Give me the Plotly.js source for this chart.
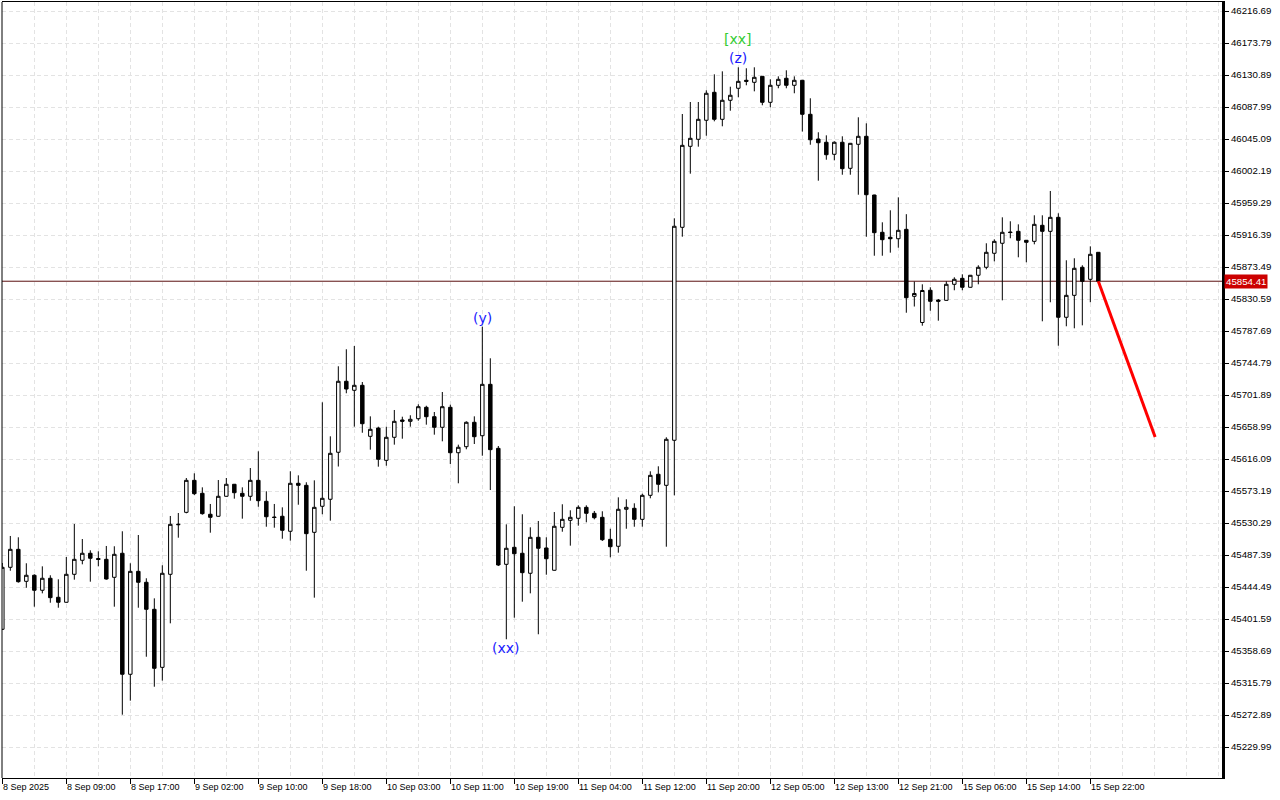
<!DOCTYPE html>
<html>
<head>
<meta charset="utf-8">
<script src="https://cdn.plot.ly/plotly-3.0.1.min.js"></script>
<style>html,body{margin:0;padding:0;background:#fff;}#chart{width:1280px;height:800px;}</style>
</head>
<body>
<div id="chart"></div>
<script>
// Hourly candles, 8 Sep 2025 00:00 .. 15 Sep 2025 23:00 (index = bar number)
var openP = [45387.8,45470.9,45495.0,45452.1,45460.2,45440.1,45456.2,45430.7,45424.0,45461.5,
45480.3,45489.7,45482.7,45481.6,45457.5,45489.7,45327.5,45465.5,45450.8,45414.6,
45336.8,45461.5,45527.9,45544.6,45587.5,45570.1,45542.0,45539.3,45566.1,45582.2,
45570.1,45566.1,45587.5,45559.4,45538.3,45539.3,45519.2,45583.5,45580.8,45517.8,
45552.7,45562.1,45625.1,45720.3,45708.2,45714.9,45646.5,45657.6,45614.3,45645.2,
45668.4,45666.6,45670.1,45685.4,45672.8,45658.6,45685.4,45624.5,45632.6,45665.3,
45647.3,45716.2,45630.4,45474.9,45497.7,45489.7,45462.9,45511.1,45496.8,45466.9,
45524.5,45533.9,45536.6,45551.3,45543.3,45537.9,45508.4,45499.1,45548.7,45550.0,
45535.2,45567.4,45595.6,45580.8,45641.2,45926.7,46035.3,46044.7,46070.2,46107.7,
46071.5,46097.0,46113.1,46123.8,46121.1,46129.1,46094.3,46117.1,46126.5,46117.1,
46123.8,46078.2,46045.1,46040.7,46024.6,46040.7,46005.8,46038.0,46048.7,45970.0,
45920.0,45913.3,45911.4,45924.0,45834.2,45799.1,45842.3,45829.2,45828.8,45850.3,
45858.3,45846.3,45862.4,45873.1,45891.9,45905.3,45920.4,45921.3,45909.3,45907.9,
45929.4,45921.3,45940.1,45806.1,45835.5,45873.1,45857.0,45893.2];
var highP = [45476.7,45512.9,45511.1,45476.3,45461.5,45472.2,45460.2,45454.8,45484.7,45529.0,
45508.8,45493.7,45492.3,45499.5,45499.1,45519.2,45476.3,45514.2,45456.2,45429.3,
45473.6,45539.7,45543.7,45590.6,45596.9,45578.1,45555.8,45587.9,45590.6,45582.6,
45578.1,45604.0,45626.4,45572.8,45555.8,45551.3,45599.6,45594.2,45584.9,45587.5,
45692.1,45646.5,45740.4,45763.2,45767.6,45719.3,45673.3,45659.4,45659.4,45681.8,
45672.8,45674.7,45689.4,45687.5,45679.1,45705.9,45688.9,45635.3,45666.6,45673.3,
45793.5,45751.1,45633.5,45528.5,45552.7,45542.0,45524.5,45533.0,45511.1,45545.0,
45555.4,45547.3,45554.0,45554.0,45546.4,45546.0,45522.6,45564.7,45562.1,45556.7,
45569.6,45599.6,45606.3,45645.2,45938.8,46078.6,46094.7,46094.7,46110.4,46131.8,
46135.8,46115.2,46141.2,46139.9,46141.2,46129.6,46125.1,46129.1,46137.2,46129.1,
46124.2,46099.7,46054.1,46050.0,46042.0,46048.7,46039.8,46074.2,46066.1,45970.4,
45933.4,45949.5,45966.9,45944.3,45854.0,45850.3,45846.3,45830.6,45854.3,45859.7,
45863.7,45862.8,45875.8,45905.3,45910.6,45940.1,45934.8,45930.7,45909.7,45942.8,
45942.8,45975.4,45945.5,45882.5,45885.2,45875.8,45901.2,45893.6];
var lowP = [45386.9,45466.3,45450.3,45443.5,45418.1,45436.0,45423.4,45416.7,45423.5,45454.3,
45474.9,45451.6,45472.2,45454.3,45418.1,45273.3,45292.1,45416.7,45351.0,45310.8,
45318.9,45395.8,45510.6,45543.3,45567.8,45541.4,45517.3,45538.8,45565.6,45562.9,
45536.1,45560.2,45552.1,45525.3,45524.0,45509.2,45506.6,45554.8,45466.3,45430.2,
45542.0,45533.4,45606.0,45704.2,45659.4,45651.3,45628.6,45605.8,45607.1,45635.3,
45643.3,45659.4,45667.4,45662.1,45648.7,45639.8,45609.4,45583.5,45629.1,45636.2,
45620.5,45574.5,45472.6,45374.4,45403.3,45424.8,45436.0,45381.1,45461.0,45466.4,
45518.6,45499.9,45526.7,45531.2,45535.2,45506.2,45484.3,45490.5,45522.6,45525.3,
45525.3,45563.4,45571.4,45498.5,45567.4,45914.1,45998.6,46034.8,46049.5,46068.8,
46062.1,46083.0,46101.0,46117.1,46109.0,46090.3,46087.6,46113.1,46113.1,46106.4,
46055.1,46037.4,45989.2,46017.3,46016.5,45997.2,45997.2,45970.4,45914.1,45888.6,
45888.6,45892.7,45899.4,45812.2,45820.5,45794.8,45814.9,45801.5,45828.4,45842.3,
45842.3,45845.8,45850.3,45870.4,45881.1,45828.8,45912.0,45886.5,45879.8,45903.9,
45800.7,45826.2,45768.0,45794.0,45791.3,45795.3,45826.2,45854.0];
var closeP = [45470.9,45495.0,45451.6,45460.2,45440.1,45456.2,45430.2,45424.0,45461.5,45481.6,
45489.7,45483.0,45481.4,45455.2,45488.3,45327.5,45465.5,45450.8,45414.6,45335.5,
45462.9,45528.5,45528.5,45587.5,45569.6,45542.8,45537.9,45566.1,45582.2,45570.9,
45566.1,45587.5,45560.2,45538.7,45537.7,45520.5,45583.5,45580.8,45516.0,45551.3,
45563.4,45623.7,45720.3,45709.9,45714.9,45663.4,45655.9,45615.7,45645.2,45666.6,
45666.6,45669.3,45686.2,45672.8,45658.6,45686.2,45624.5,45631.8,45665.3,45646.0,
45716.2,45628.6,45474.0,45496.4,45489.1,45463.7,45511.1,45496.4,45482.4,45525.9,
45535.2,45537.9,45551.3,45543.3,45537.4,45507.9,45498.5,45548.7,45551.3,45535.2,
45567.4,45594.2,45582.2,45642.5,45928.1,46036.6,46046.0,46071.5,46106.4,46071.5,
46097.0,46103.7,46122.4,46122.4,46127.8,46094.3,46117.1,46125.1,46117.1,46123.8,
46078.2,46044.1,46040.1,46024.0,46040.7,46005.3,46039.3,46048.7,45970.4,45919.5,
45910.1,45911.4,45922.7,45832.3,45838.0,45842.0,45827.5,45827.5,45850.3,45857.0,
45846.3,45862.4,45873.1,45893.2,45907.9,45920.0,45919.7,45909.3,45906.6,45930.7,
45921.3,45940.1,45806.1,45835.5,45871.7,45854.3,45890.5,45854.41];

var tickLabelIdx = [0,8,16,24,32,40,48,56,64,72,80,88,96,104,112,120,128,136];
var tickLabels = ["8 Sep 2025","8 Sep 09:00","8 Sep 17:00","9 Sep 02:00","9 Sep 10:00","9 Sep 18:00",
"10 Sep 03:00","10 Sep 11:00","10 Sep 19:00","11 Sep 04:00","11 Sep 12:00","11 Sep 20:00",
"12 Sep 05:00","12 Sep 13:00","12 Sep 21:00","15 Sep 06:00","15 Sep 14:00","15 Sep 22:00"];

var priceTicks = [45229.99,45272.89,45315.79,45358.69,45401.59,45444.49,45487.39,45530.29,45573.19,
45616.09,45658.99,45701.89,45744.79,45787.69,45830.59,45873.49,45916.39,45959.29,46002.19,
46045.09,46087.99,46130.89,46173.79,46216.69];
var priceTickText = priceTicks.map(function(v){return v.toFixed(2);});

var currentPrice = 45854.41;

// forecast line
var forecastX = [137, 144.1];
var forecastY = [45854.41, 45645.6];

// wave labels
var waveLabels = [
  {text:"(y)",  bar:60, at:"high", color:"#1a1aff", shift:0},
  {text:"(xx)", bar:63, at:"low",  color:"#1a1aff", shift:0},
  {text:"(z)",  bar:92, at:"high", color:"#1a1aff", shift:0},
  {text:"[xx]", bar:92, at:"high", color:"#33cc33", shift:19}
];

var idx = openP.map(function(_, i){return i;});

var traces = [
  {
    type:'candlestick', x: idx, open: openP, high: highP, low: lowP, close: closeP,
    increasing:{line:{color:'#000', width:1}, fillcolor:'#ffffff'},
    decreasing:{line:{color:'#000', width:1}, fillcolor:'#000000'},
    whiskerwidth:0, hoverinfo:'skip', showlegend:false
  },
  {
    type:'scatter', mode:'lines', x: forecastX, y: forecastY,
    line:{color:'#ff0000', width:3}, hoverinfo:'skip', showlegend:false
  }
];

var annotations = [];
tickLabelIdx.forEach(function(b, k){
  annotations.push({x:b, xref:'x', y:0, yref:'paper', yanchor:'top', xanchor:'left',
    yshift:-2, xshift:-1, text:tickLabels[k], showarrow:false,
    font:{family:'Liberation Sans, Arial, sans-serif', size:9, color:'#000'}});
});
waveLabels.forEach(function(w){
  var isHigh = w.at === 'high';
  annotations.push({x:w.bar, xref:'x', y: isHigh ? highP[w.bar] : lowP[w.bar], yref:'y',
    yanchor: isHigh ? 'bottom' : 'top', xanchor:'center', yshift: (isHigh ? 1 : -1) * (w.shift),
    text:w.text, showarrow:false, borderpad:0,
    font:{family:'DejaVu Sans, sans-serif', size:14, color:w.color}});
});
annotations.push({x:1, xref:'paper', xanchor:'left', xshift:2, y:currentPrice, yref:'y',
  text:currentPrice.toFixed(2), showarrow:false, bgcolor:'#cc0000', borderpad:1,
  font:{family:'Liberation Sans, Arial, sans-serif', size:9.7, color:'#ffffff'}});

var gridStyle = {color:'#e3e3e3', dash:'4px,3px'};

var layout = {
  width:1280, height:800,
  margin:{l:2, r:58, t:2, b:22, pad:0},
  paper_bgcolor:'#ffffff', plot_bgcolor:'#ffffff',
  showlegend:false, dragmode:false, hovermode:false,
  boxgap:0.38,
  xaxis:{
    type:'linear', range:[-0.04, 152.46], fixedrange:true,
    rangeslider:{visible:false},
    tickmode:'array', tickvals:tickLabelIdx, ticks:'outside', ticklen:5, tickcolor:'#000',
    showticklabels:false,
    showgrid:true, gridcolor:gridStyle.color, griddash:gridStyle.dash, gridwidth:1,
    minor:{tick0:0, dtick:4, showgrid:true, gridcolor:gridStyle.color, griddash:gridStyle.dash, ticks:''},
    zeroline:false, showline:true, linecolor:'#000', linewidth:1, mirror:true
  },
  yaxis:{
    side:'right', range:[45188.43, 46228.76], fixedrange:true,
    tickmode:'array', tickvals:priceTicks, ticktext:priceTickText,
    ticks:'outside', ticklen:4, tickcolor:'#000',
    tickfont:{family:'Liberation Sans, Arial, sans-serif', size:9.7, color:'#000'},
    showgrid:true, gridcolor:gridStyle.color, griddash:gridStyle.dash, gridwidth:1,
    zeroline:false, showline:true, linecolor:'#000', linewidth:3
  },
  shapes:[
    {type:'line', xref:'paper', x0:0, x1:1, yref:'y', y0:currentPrice, y1:currentPrice,
     line:{color:'#5a1010', width:1}, layer:'below'},
    {type:'line', xref:'paper', x0:0, x1:0, yref:'paper', y0:0, y1:1,
     line:{color:'#000', width:1}}
  ],
  annotations: annotations
};

Plotly.newPlot('chart', traces, layout, {displayModeBar:false, staticPlot:true});
</script>
</body>
</html>
